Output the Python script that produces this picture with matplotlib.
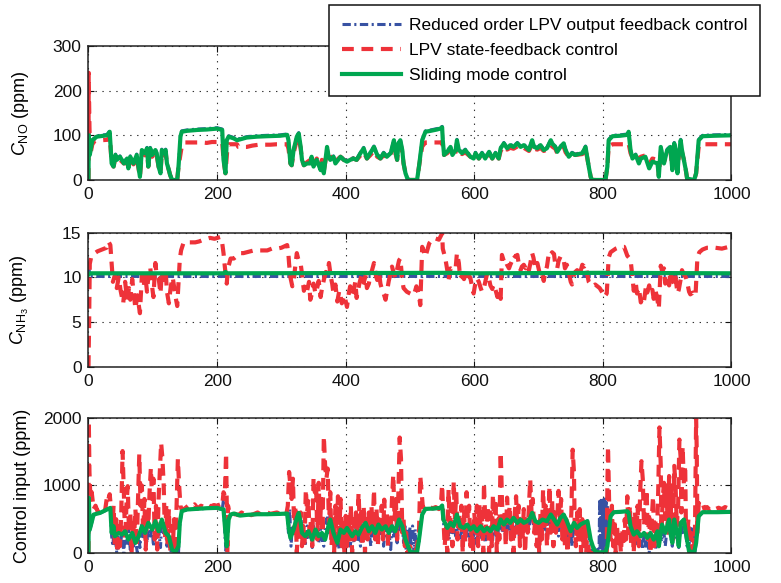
import matplotlib
matplotlib.use("Agg")
import matplotlib.pyplot as plt

plt.rcParams['font.family'] = ['Liberation Sans', 'DejaVu Sans']
plt.rcParams['mathtext.fontset'] = 'custom'
plt.rcParams['mathtext.rm'] = 'Liberation Sans'
plt.rcParams['mathtext.it'] = 'Liberation Sans:italic'
plt.rcParams['lines.scale_dashes'] = False

# ---------------- data (time, value) ----------------
labels = ["Reduced order LPV output feedback control",
          "LPV state-feedback control",
          "Sliding mode control"]
x_ticks = [0, 200, 400, 600, 800, 1000]
no_ticks = [0, 100, 200, 300]
nh3_ticks = [0, 5, 10, 15]
u_ticks = [0, 1000, 2000]

# C_NO, sliding mode control
no_smc = [(0,0),(0.5,100),(2,56),(6,89),(13,97),(29,100),(33,108),(36,37),(39,30),(42,56),(44,45),(49,52),(55,37),(60,48),(62,26),(65,52),(70,37),(75,56),(80,7),(83,67),(88,60),(91,71),(93,30),(96,71),(99,56),(104,67),(106,60),(109,30),(112,15),(114,67),(117,60),(120,67),(122,37),(125,22),(127,11),(130,0),(138,0),(140,30),(143,97),(145,108),(153,110),(169,112),(184,113),(200,115),(208,112),(210,45),(213,15),(215,89),(218,97),(226,93),(231,89),(236,91),(241,93),(246,95),(262,97),(278,98),(298,99),(309,101),(311,89),(314,37),(316,33),(319,67),(324,97),(327,104),(330,74),(332,45),(335,33),(340,37),(345,37),(347,52),(350,30),(355,45),(361,22),(363,37),(366,15),(371,74),(373,56),(376,45),(381,52),(384,37),(392,52),(397,45),(402,41),(407,45),(412,48),(417,45),(423,60),(428,71),(433,48),(438,60),(444,74),(449,56),(454,48),(459,60),(464,52),(470,60),(475,89),(477,67),(480,45),(482,82),(485,89),(488,67),(490,37),(493,15),(496,3),(498,0),(511,0),(514,30),(519,89),(524,108),(532,110),(542,113),(547,115),(550,118),(551,89),(553,56),(558,63),(563,74),(566,56),(571,67),(573,89),(576,67),(581,60),(586,67),(594,52),(599,48),(602,60),(607,48),(612,60),(617,48),(623,63),(628,48),(633,60),(638,48),(641,71),(646,82),(651,71),(656,78),(661,74),(667,82),(672,74),(677,78),(685,67),(690,89),(693,74),(698,71),(703,78),(708,67),(713,71),(719,89),(721,82),(726,74),(729,63),(734,74),(739,82),(742,67),(747,52),(752,60),(757,56),(768,60),(773,74),(778,30),(781,7),(783,0),(804,0),(807,30),(809,89),(815,98),(827,99),(838,101),(840,108),(843,67),(846,48),(851,56),(856,37),(859,48),(866,52),(872,26),(877,41),(885,37),(887,7),(890,74),(895,37),(900,67),(905,74),(908,22),(911,82),(913,67),(916,15),(918,56),(921,89),(923,67),(926,45),(929,22),(931,3),(942,0),(945,15),(949,89),(955,98),(973,99),(1000,100)]

# C_NO, reduced order LPV output feedback
no_lpv_of = [(0,0),(0.3,135),(2,58),(6,90),(13,99),(29,102),(33,110),(36,39),(39,32),(42,58),(44,47),(49,54),(55,39),(60,50),(62,28),(65,54),(70,39),(75,58),(80,9),(83,69),(88,62),(91,73),(93,32),(96,73),(99,58),(104,69),(106,62),(109,32),(112,17),(114,69),(117,62),(120,69),(122,39),(125,24),(127,13),(130,0),(138,0),(140,32),(143,99),(145,110),(153,112),(169,114),(184,115),(200,117),(208,114),(210,47),(213,17),(215,91),(218,99),(226,95),(231,91),(236,93),(241,95),(246,97),(262,99),(278,100),(298,101),(309,103),(311,91),(314,39),(316,35),(319,69),(324,99),(327,106),(330,76),(332,47),(335,35),(340,39),(345,39),(347,54),(350,32),(355,47),(361,24),(363,39),(366,17),(371,76),(373,58),(376,47),(381,54),(384,39),(392,54),(397,47),(402,43),(407,47),(412,50),(417,47),(423,62),(428,73),(433,50),(438,62),(444,76),(449,58),(454,50),(459,62),(464,54),(470,62),(475,91),(477,69),(480,47),(482,84),(485,91),(488,69),(490,39),(493,17),(496,4),(498,0),(511,0),(514,32),(519,91),(524,110),(532,112),(542,115),(547,117),(550,120),(551,91),(553,58),(558,65),(563,76),(566,58),(571,69),(573,91),(576,69),(581,62),(586,69),(594,54),(599,50),(602,62),(607,50),(612,62),(617,50),(623,65),(628,50),(633,62),(638,50),(641,73),(646,84),(651,73),(656,80),(661,76),(667,84),(672,76),(677,80),(685,69),(690,91),(693,76),(698,73),(703,80),(708,69),(713,73),(719,91),(721,84),(726,76),(729,65),(734,76),(739,84),(742,69),(747,54),(752,62),(757,58),(768,62),(773,76),(778,32),(781,9),(783,0),(804,0),(807,32),(809,91),(815,100),(827,101),(838,103),(840,110),(843,69),(846,50),(851,58),(856,39),(859,50),(866,54),(872,28),(877,43),(885,39),(887,9),(890,76),(895,39),(900,69),(905,76),(908,24),(911,84),(913,69),(916,17),(918,58),(921,91),(923,69),(926,47),(929,24),(931,4),(942,0),(945,17),(949,91),(955,100),(973,101),(1000,102)]

# C_NO, LPV state feedback
no_lpv_sf = [(0,0),(0.3,240),(1.5,120),(2.5,55),(6,80),(10,88),(30,90),(33,100),(36,37),(39,30),(42,50),(44,42),(49,45),(55,37),(60,40),(62,26),(65,45),(70,35),(75,50),(80,7),(83,60),(88,55),(91,65),(93,30),(96,65),(99,52),(104,62),(106,55),(109,30),(112,15),(114,60),(117,55),(120,62),(122,37),(125,22),(127,11),(130,0),(138,0),(140,30),(145,75),(150,84),(176,84),(184,83),(192,85),(208,85),(210,45),(213,15),(216,70),(218,80),(231,80),(233,74),(246,74),(255,77),(265,79),(283,79),(293,80),(309,80),(311,70),(314,37),(316,33),(319,60),(324,90),(327,95),(330,70),(332,45),(335,33),(340,40),(345,45),(347,52),(350,35),(355,48),(361,30),(363,45),(366,20),(371,65),(373,52),(376,48),(381,55),(384,42),(392,52),(397,45),(402,40),(407,45),(412,48),(417,45),(423,55),(428,62),(433,48),(438,55),(444,65),(449,52),(454,48),(459,55),(464,50),(470,55),(475,80),(477,62),(480,45),(482,75),(485,80),(488,62),(490,37),(493,15),(496,3),(498,0),(511,0),(514,30),(519,75),(524,84),(547,84),(550,85),(551,75),(553,56),(558,60),(563,68),(566,56),(571,62),(573,80),(576,62),(581,58),(586,62),(594,52),(599,48),(602,58),(607,48),(612,58),(617,48),(623,60),(628,48),(633,58),(638,48),(641,65),(646,75),(651,68),(656,72),(661,70),(667,75),(672,70),(677,72),(685,65),(690,80),(693,70),(698,68),(703,72),(708,65),(713,68),(719,80),(721,75),(726,70),(729,60),(734,70),(739,75),(742,62),(747,52),(752,58),(757,56),(768,58),(773,70),(778,30),(781,7),(783,0),(804,0),(807,30),(809,75),(815,80),(838,80),(840,82),(843,60),(846,50),(851,56),(856,45),(859,52),(866,55),(872,35),(877,48),(885,45),(887,10),(890,65),(895,40),(900,60),(905,65),(908,25),(911,72),(913,60),(916,18),(918,52),(921,78),(923,62),(926,45),(929,22),(931,3),(942,0),(945,15),(949,75),(955,80),(1000,80)]

# C_NH3
nh3_smc = [(0,10.3),(3,10.45),(210,10.45),(213,10.6),(216,10.45),(560,10.5),(600,10.45),(800,10.5),(1000,10.45)]
nh3_lpv_of = [(0,11.3),(1,10.9),(2,10.1),(1000,10.1)]
nh3_lpv_sf = [(0,0),(1,5),(2,11.5),(4,12.2),(8,12.6),(14,12.9),(21,13.1),(28,13.3),(31,14),(34,13.6),(36,11.5),(38,9.5),(41,10.2),(44,8.8),(47,10),(50,8.5),(54,7.1),(57,9.5),(60,7.5),(63,8.8),(65,7.5),(68,9.8),(70,8.5),(73,6.5),(76,8),(80,6),(83,10.2),(86,9),(88,10.5),(91,8.4),(93,10),(96,11.2),(98,9.5),(101,7.8),(104,11.6),(106,10.2),(109,10),(112,8.2),(114,10.5),(117,9.7),(120,10.8),(122,8.4),(125,7.1),(128,9),(131,10),(135,8),(138,6.8),(140,9.5),(142,12),(144,13),(148,13.9),(166,13.9),(172,14),(179,14.2),(189,14.4),(196,14.3),(205,14.5),(208,13.8),(210,12.7),(212,11.2),(215,9.3),(217,11),(221,12.1),(226,12.1),(231,12.4),(236,12.7),(241,12.7),(257,13),(278,13),(285,13.2),(293,13.2),(300,13.3),(309,13.6),(311,12.5),(312,11.5),(314,10),(317,9),(319,9.5),(322,11.5),(324,12.7),(327,11.8),(330,11.5),(332,10.4),(335,8.5),(338,9.2),(340,8.5),(343,9.5),(345,7.5),(348,8.3),(350,9.3),(353,8.2),(355,8.6),(358,9.6),(361,7.8),(363,8.7),(366,9.7),(369,10.6),(372,10.5),(374,11.6),(377,10),(379,9.3),(381,8.2),(384,9.2),(387,7.3),(390,8.5),(394,7.1),(398,8),(402,6.7),(405,8.3),(407,9),(410,8),(412,8.4),(415,9.5),(417,7.7),(421,9.2),(425,10.4),(428,9.4),(431,10.2),(433,8.8),(436,9.3),(439,10.4),(441,10.8),(444,11.6),(447,10.2),(449,9.7),(452,10.5),(454,9.3),(457,8.5),(459,8.2),(462,7.5),(465,8.8),(467,9.6),(470,10.5),(472,11.2),(475,10.4),(477,10),(480,10.9),(483,11.9),(485,12.1),(488,9.7),(490,8.8),(495,8.4),(500,8.2),(506,8),(510,9),(514,8),(516,6.9),(519,13.4),(524,12.3),(530,13.8),(537,14.4),(545,14.2),(550,14.9),(551,13.2),(555,12.1),(558,10.8),(560,9.7),(563,11),(568,10.8),(571,11),(573,12.7),(576,11.6),(578,9.9),(581,10.2),(584,9.8),(587,10.5),(589,9.9),(592,10.2),(594,9.9),(597,8.8),(599,8.2),(602,9.5),(604,9.9),(607,9.5),(610,8.8),(612,8.4),(615,8.8),(618,9.8),(620,10.4),(623,9.8),(625,9.1),(628,8.7),(630,9.2),(633,8.6),(636,7.8),(638,8.4),(641,7.6),(643,12.5),(646,11.8),(648,12),(651,11.4),(654,11),(656,11.4),(659,11.9),(661,12.5),(664,12.3),(667,12.5),(669,11.6),(672,10.8),(674,11.2),(677,11.4),(680,11),(682,11.4),(685,10.8),(687,11.5),(690,12.7),(692,12.2),(695,11),(698,11.6),(700,11),(703,10),(706,10.3),(708,9.6),(710,10.5),(713,11.2),(716,12.7),(719,12.5),(721,12.8),(724,12.6),(726,11.4),(729,11),(731,11.8),(734,12.3),(737,12.3),(739,12),(741,11),(744,11.4),(747,10.5),(750,9.5),(752,9.2),(755,10.3),(757,10.6),(760,10.8),(763,10),(765,10.6),(768,11.4),(771,11.2),(773,11.4),(776,10.2),(778,9.5),(781,9.2),(783,9),(788,9.2),(795,8.8),(800,8.2),(802,7.8),(806,8.2),(809,12.2),(812,12.8),(820,13.2),(827,13.4),(833,13.4),(838,12.4),(843,12),(846,10),(848,8.5),(851,9.5),(853,8.2),(856,8.8),(859,7.2),(862,7.8),(864,7.4),(867,9),(869,8.3),(872,9.1),(874,8.2),(877,8.6),(879,7.6),(882,8.5),(885,7.4),(887,6.5),(890,11.3),(892,10.7),(895,11),(897,9.3),(900,10),(903,9.1),(905,10.8),(908,9.7),(911,9.2),(913,10),(916,8.2),(918,8.6),(921,9.8),(923,10.8),(926,10.3),(929,10),(931,9.5),(934,8.4),(936,8.1),(940,8.3),(944,7.9),(947,12.2),(950,12.8),(955,13.1),(962,13.3),(975,13.3),(985,13.2),(996,13.4),(1000,13.4)]

# Control input
u_smc = [(0,0),(0.5,817),(2,347),(8,569),(18,594),(29,644),(34,668),(36,297),(39,396),(41,248),(47,297),(52,272),(57,322),(62,198),(68,297),(73,149),(78,248),(83,396),(88,297),(93,446),(99,347),(104,470),(109,322),(114,495),(120,297),(125,248),(130,50),(135,10),(140,99),(142,446),(145,619),(153,644),(169,653),(184,663),(200,668),(210,644),(213,297),(215,99),(218,495),(221,569),(226,584),(236,554),(246,564),(262,574),(278,574),(298,579),(309,584),(311,396),(314,223),(319,347),(324,520),(327,594),(330,446),(332,297),(337,248),(342,322),(348,198),(353,347),(358,248),(363,297),(368,198),(373,396),(376,495),(381,297),(387,149),(392,347),(397,297),(402,371),(410,248),(415,322),(420,272),(425,371),(431,446),(436,322),(441,396),(446,297),(451,421),(456,347),(462,396),(467,297),(472,396),(477,322),(483,495),(488,396),(493,198),(498,75),(501,10),(511,10),(514,198),(519,569),(524,653),(537,658),(547,668),(550,703),(552,495),(558,371),(563,446),(568,396),(573,569),(578,396),(584,371),(589,421),(594,347),(599,396),(604,322),(610,396),(615,322),(620,371),(625,322),(630,396),(636,347),(641,495),(646,421),(651,495),(656,446),(661,520),(667,446),(672,495),(677,446),(682,470),(687,520),(690,594),(695,470),(700,446),(706,495),(713,470),(719,569),(724,495),(729,421),(734,520),(739,569),(744,470),(750,322),(755,446),(760,371),(765,421),(770,446),(776,470),(781,198),(786,50),(791,10),(804,10),(807,99),(812,545),(817,604),(827,609),(838,619),(840,594),(843,396),(848,272),(853,322),(859,248),(864,297),(869,223),(874,297),(879,198),(885,322),(887,99),(892,421),(897,297),(903,495),(905,297),(908,149),(911,495),(916,248),(918,99),(921,446),(926,495),(929,297),(934,25),(942,10),(945,149),(949,545),(955,604),(978,604),(1000,609)]

u_lpv_of = [(0,0),(0.5,780),(2,330),(8,560),(18,590),(29,640),(34,660),(36,250),(38,100),(40,420),(42,200),(44,0),(47,350),(50,150),(52,300),(55,0),(57,350),(60,120),(62,400),(65,50),(68,300),(70,100),(73,200),(76,0),(78,300),(80,80),(83,420),(86,200),(88,330),(91,150),(93,480),(96,250),(99,380),(101,100),(104,520),(106,200),(109,350),(112,80),(114,520),(117,250),(120,330),(122,100),(125,280),(128,0),(131,150),(135,0),(138,120),(140,0),(142,430),(145,610),(153,640),(169,650),(184,660),(200,665),(208,640),(210,800),(212,300),(214,0),(216,450),(219,570),(226,580),(236,550),(246,560),(262,570),(278,570),(298,575),(309,580),(311,300),(313,650),(315,100),(317,400),(319,250),(322,500),(324,520),(327,590),(329,300),(331,500),(333,200),(335,350),(337,100),(340,400),(342,200),(345,350),(348,80),(350,400),(353,250),(356,450),(358,150),(361,350),(363,200),(366,100),(368,350),(371,520),(373,300),(376,600),(378,250),(381,350),(384,100),(387,250),(390,50),(392,400),(395,200),(397,350),(400,150),(402,400),(405,250),(407,100),(410,330),(413,150),(415,380),(418,200),(420,320),(423,100),(425,420),(428,250),(431,480),(433,200),(436,380),(439,100),(441,420),(444,250),(446,350),(449,150),(451,450),(454,250),(456,380),(459,100),(462,420),(465,200),(467,350),(470,50),(472,420),(475,250),(477,350),(480,150),(483,520),(486,300),(488,420),(490,150),(492,400),(494,50),(496,350),(498,0),(500,380),(502,100),(504,400),(506,0),(508,350),(510,50),(512,200),(514,150),(516,400),(519,570),(524,650),(537,655),(547,665),(550,700),(552,450),(555,250),(558,380),(561,200),(563,450),(566,300),(568,420),(571,250),(573,560),(576,350),(578,200),(581,380),(584,300),(586,450),(589,250),(592,350),(594,150),(597,400),(599,250),(602,350),(604,100),(607,400),(610,300),(612,200),(615,350),(617,150),(620,380),(623,250),(625,350),(628,100),(630,400),(633,300),(636,200),(638,400),(641,500),(643,300),(646,420),(649,250),(651,500),(654,350),(656,450),(659,300),(661,520),(664,350),(667,450),(670,250),(672,500),(675,350),(677,450),(680,300),(682,470),(685,350),(687,520),(690,600),(692,400),(695,470),(698,300),(700,450),(703,300),(706,500),(709,350),(711,470),(714,250),(716,450),(719,580),(721,400),(724,500),(726,300),(729,420),(731,250),(734,520),(737,400),(739,570),(742,350),(744,470),(747,200),(750,300),(752,100),(755,450),(757,300),(760,380),(763,200),(765,420),(768,300),(770,450),(773,350),(776,480),(779,200),(781,150),(783,0),(786,100),(788,0),(791,50),(794,0),(795,800),(796,0),(797,780),(798,50),(799,800),(800,0),(801,790),(802,100),(803,800),(804,0),(805,750),(806,100),(807,700),(808,300),(810,550),(812,560),(817,605),(827,610),(838,620),(840,590),(843,350),(846,150),(848,300),(851,100),(853,320),(856,150),(859,250),(862,50),(864,300),(867,100),(869,220),(872,0),(874,300),(877,100),(879,200),(882,50),(885,320),(887,80),(890,420),(892,200),(895,300),(897,100),(900,380),(903,500),(905,280),(908,100),(911,500),(913,250),(916,200),(918,80),(921,450),(924,300),(926,500),(929,280),(931,100),(933,380),(935,0),(937,400),(939,50),(941,380),(943,0),(945,150),(949,540),(955,600),(978,605),(1000,610)]

u_lpv_sf = [(0,0),(0.5,1950),(1.5,1200),(3,800),(5,900),(8,650),(11,700),(14,620),(18,650),(22,600),(26,640),(29,850),(31,800),(33,870),(35,650),(37,300),(39,700),(41,100),(43,500),(45,0),(47,400),(49,100),(51,600),(53,1510),(55,900),(57,200),(59,700),(61,990),(63,300),(65,600),(67,0),(69,500),(71,250),(73,650),(75,100),(77,800),(79,1460),(81,700),(83,1000),(85,300),(87,800),(89,50),(91,600),(93,400),(95,900),(97,1260),(99,800),(101,1100),(103,200),(105,700),(107,50),(109,800),(111,1200),(113,1630),(115,1400),(117,1000),(119,200),(121,700),(123,100),(125,650),(127,0),(129,400),(131,50),(133,500),(135,0),(137,700),(139,1390),(141,1000),(143,700),(145,640),(150,660),(155,700),(160,680),(165,720),(170,660),(175,700),(180,680),(185,720),(190,690),(195,710),(200,700),(205,720),(208,700),(210,900),(212,850),(214,1480),(216,0),(217,700),(219,600),(223,560),(228,580),(233,560),(238,600),(243,570),(248,590),(253,560),(258,580),(263,600),(268,570),(273,590),(278,600),(283,580),(288,590),(293,600),(298,580),(303,600),(308,590),(310,700),(312,1200),(314,1000),(316,800),(318,1100),(320,300),(322,700),(324,0),(326,500),(328,200),(330,600),(332,100),(334,400),(336,150),(338,940),(340,600),(342,800),(344,200),(346,500),(348,100),(350,1110),(352,900),(354,1000),(356,200),(358,1040),(360,400),(362,800),(364,300),(366,1730),(368,1300),(370,1100),(372,1250),(374,400),(376,900),(378,100),(380,500),(382,0),(384,700),(386,200),(388,840),(390,300),(392,800),(394,100),(396,500),(398,0),(400,550),(402,100),(404,600),(406,200),(408,700),(410,0),(412,500),(414,200),(416,600),(418,300),(420,890),(422,400),(424,600),(426,100),(428,700),(430,0),(432,500),(434,200),(436,600),(438,300),(440,700),(442,400),(444,940),(446,200),(448,650),(450,100),(452,500),(454,300),(456,700),(458,200),(460,790),(462,300),(464,600),(466,100),(468,500),(470,300),(472,800),(474,1160),(476,500),(478,800),(480,200),(482,900),(484,1710),(486,1400),(487,800),(488,300),(490,500),(492,100),(494,300),(496,0),(500,100),(504,0),(510,50),(514,300),(516,1140),(518,900),(520,680),(525,650),(530,690),(535,660),(540,680),(545,650),(548,700),(550,1010),(552,500),(554,100),(556,400),(558,0),(560,940),(562,300),(564,700),(566,100),(568,1060),(570,500),(572,900),(574,200),(576,600),(578,300),(580,700),(582,0),(584,650),(586,150),(588,900),(590,500),(592,700),(594,100),(596,400),(598,0),(600,600),(602,300),(604,700),(606,100),(608,720),(610,300),(612,600),(614,0),(615,1040),(617,500),(619,300),(621,700),(623,0),(625,600),(627,100),(629,870),(631,400),(633,800),(635,0),(637,500),(639,200),(641,1490),(642,1200),(643,800),(645,300),(647,600),(649,100),(651,820),(653,400),(655,700),(657,200),(659,500),(661,0),(663,600),(665,840),(667,300),(669,700),(671,100),(673,500),(675,200),(677,650),(679,0),(681,500),(683,300),(685,700),(687,1090),(689,600),(691,800),(693,300),(695,500),(697,100),(699,400),(701,0),(703,600),(705,200),(707,940),(709,400),(711,700),(713,100),(715,500),(717,990),(719,300),(721,800),(723,100),(725,600),(727,300),(729,500),(731,920),(733,400),(735,800),(737,200),(739,600),(741,100),(743,500),(745,0),(747,400),(749,200),(751,600),(753,1530),(755,1200),(756,500),(758,100),(760,600),(762,200),(764,650),(766,0),(768,500),(770,100),(772,400),(774,0),(776,350),(778,50),(780,0),(806,0),(807,1000),(808,1580),(810,600),(812,200),(814,700),(816,100),(818,500),(820,0),(822,400),(824,100),(826,300),(828,0),(830,350),(832,100),(834,500),(836,200),(838,840),(840,300),(842,700),(844,100),(846,500),(848,0),(850,600),(852,200),(854,700),(856,100),(858,900),(860,1360),(862,1100),(864,400),(866,700),(868,940),(870,200),(872,600),(874,0),(876,500),(878,840),(880,100),(882,500),(884,200),(886,900),(888,1860),(890,1300),(891,300),(893,800),(895,1040),(897,500),(899,1000),(901,300),(903,1140),(905,500),(907,1000),(909,200),(911,1290),(913,1000),(915,400),(917,700),(919,1680),(921,1400),(922,600),(924,1580),(926,1000),(928,1300),(929,500),(931,200),(933,500),(935,0),(937,300),(939,0),(941,200),(943,100),(945,2000),(946,1500),(947,300),(949,740),(952,700),(955,740),(958,650),(962,680),(966,640),(970,680),(975,650),(980,670),(985,650),(990,680),(995,660),(1000,670)]

# ---------------- styling ----------------
c_blue = '#3852a3'
c_red = '#ee3239'
c_green = '#00a650'
lw_blue, lw_red, lw_green = 2.2, 3.0, 3.0
dash_red = (0, (8.5, 5.5))
dash_blue = (0, (6, 2.5, 1.5, 2.5))

fig = plt.figure(figsize=(7.81, 5.83), dpi=100)
left, width = 0.1133, 0.8233
rects = [(left, 0.6913, width, 0.2298),
         (left, 0.3705, width, 0.2307),
         (left, 0.0515, width, 0.2316)]

panels = [
    (no_lpv_of, no_lpv_sf, no_smc, (0, 300), no_ticks, r'$C_{\mathrm{NO}}$ (ppm)'),
    (nh3_lpv_of, nh3_lpv_sf, nh3_smc, (0, 15), nh3_ticks, r'$C_{\mathrm{NH}_3}$ (ppm)'),
    (u_lpv_of, u_lpv_sf, u_smc, (0, 2000), u_ticks, 'Control input (ppm)'),
]

handles = None
for rect, (s_of, s_sf, s_smc, ylim, yt, ylab) in zip(rects, panels):
    ax = fig.add_axes(rect)
    t1, v1 = zip(*s_of)
    t2, v2 = zip(*s_sf)
    t3, v3 = zip(*s_smc)
    h1, = ax.plot(t1, v1, color=c_blue, lw=lw_blue, linestyle=dash_blue, label=labels[0])
    h2, = ax.plot(t2, v2, color=c_red, lw=lw_red, linestyle=dash_red, label=labels[1])
    h3, = ax.plot(t3, v3, color=c_green, lw=lw_green, linestyle='-', label=labels[2])
    if handles is None:
        handles = [h1, h2, h3]
    ax.set_xlim(0, 1000)
    ax.set_ylim(*ylim)
    ax.set_xticks(x_ticks)
    ax.set_yticks(yt)
    ax.grid(True, color='#333333', linestyle=(0, (1, 4)), linewidth=0.8)
    ax.tick_params(direction='in', length=4, width=0.8, top=True, right=True,
                   labelsize=12.5, pad=5, colors='#111111')
    for sp in ax.spines.values():
        sp.set_linewidth(1.1)
        sp.set_color('#222222')
    ax.set_ylabel(ylab, fontsize=13)
    ax.yaxis.set_label_coords(-0.09, 0.5)

leg = fig.legend(handles, labels, loc='upper left',
                 bbox_to_anchor=(0.4213, 0.9914), borderaxespad=0.0,
                 fontsize=12.5, frameon=True, fancybox=False,
                 edgecolor='#111111', framealpha=1.0,
                 handlelength=3.4, handletextpad=0.45, borderpad=0.75,
                 labelspacing=0.55)
leg.get_frame().set_linewidth(1.1)

fig.savefig('out.png', dpi=100)
